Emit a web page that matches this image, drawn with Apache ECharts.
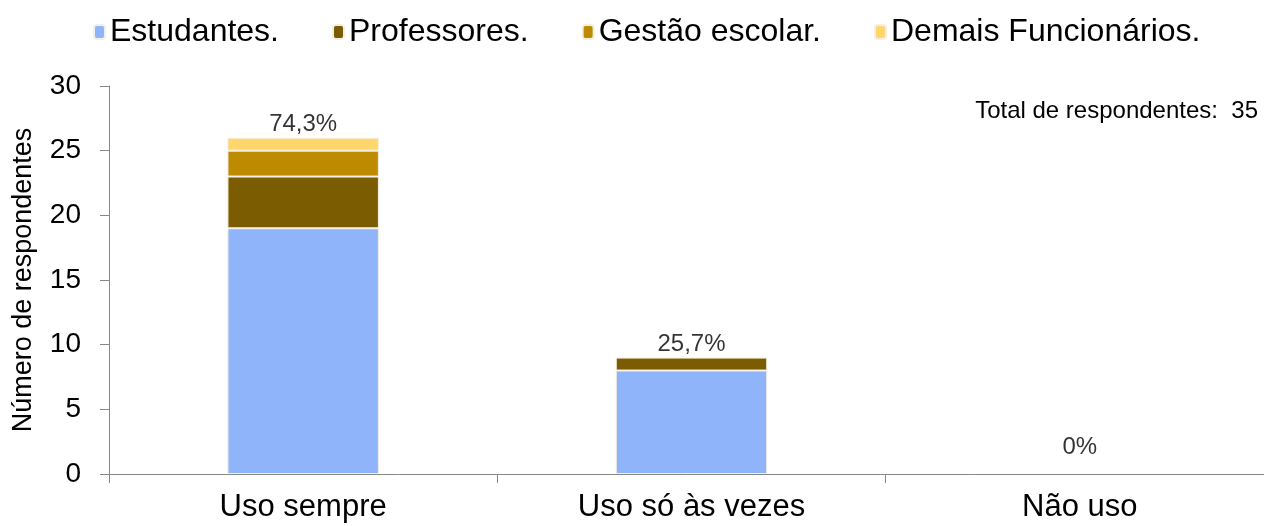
<!DOCTYPE html>
<html>
<head>
<meta charset="utf-8">
<script src="https://cdn.jsdelivr.net/npm/echarts@6/dist/echarts.min.js"></script>
<style>
  html, body { margin: 0; padding: 0; background: #fff; }
  #chart { width: 1264px; height: 526px; }
</style>
</head>
<body>
<div id="chart"></div>
<script>
const categories = ["Uso sempre", "Uso só às vezes", "Não uso"]
const estudantes = [19, 8, 0]
const professores = [4, 1, 0]
const gestao = [2, 0, 0]
const demais = [1, 0, 0]
const pctLabels = ["74,3%", "25,7%", "0%"]
const yTicks = [0, 5, 10, 15, 20, 25, 30]

const font = "Liberation Sans, Arial, sans-serif"
const totals = categories.map((c, i) => estudantes[i] + professores[i] + gestao[i] + demais[i])

const myE = echarts.init(document.getElementById("chart"))

// zero values are left out so no empty border is drawn
const barSeries = (name, data, color) => ({
  name: name,
  type: "bar",
  stack: "total",
  barWidth: "39%",
  data: data.map((v) => (v === 0 ? null : v)),
  itemStyle: {
    color: color,
    borderColor: "#f4efe4",
    borderWidth: 1,
  },
})

let option = {
  animation: false,
  textStyle: { fontFamily: font },
  legend: {
    top: 11,
    left: 88,
    itemWidth: 11,
    itemHeight: 14,
    itemGap: 53,
    textStyle: { fontSize: 32, color: "#000", fontFamily: font },
    data: ["Estudantes.", "Professores.", "Gestão escolar.", "Demais Funcionários."],
  },
  grid: {
    left: 109,
    right: -10,
    top: 86,
    bottom: 52,
    outerBoundsMode: "none",
  },
  graphic: [
    {
      type: "text",
      right: 6,
      top: 99,
      style: {
        text: "Total de respondentes:  35",
        fontSize: 24,
        fontFamily: font,
        fill: "#000",
      },
    },
  ],
  xAxis: {
    type: "category",
    data: categories,
    axisLine: { lineStyle: { color: "#888", width: 1 } },
    axisTick: { show: true, length: 9, lineStyle: { color: "#888" } },
    axisLabel: { fontSize: 31, color: "#000", margin: 18, fontFamily: font },
  },
  yAxis: {
    type: "value",
    min: yTicks[0],
    max: yTicks[yTicks.length - 1],
    interval: 5,
    name: "Número de respondentes",
    nameLocation: "middle",
    nameGap: 72,
    nameRotate: 90,
    nameTextStyle: { fontSize: 27, color: "#000", fontFamily: font },
    axisLine: { show: true, lineStyle: { color: "#888", width: 1 } },
    axisTick: { show: true, length: 9, lineStyle: { color: "#888" } },
    splitLine: { show: false },
    axisLabel: { fontSize: 28, color: "#000", margin: 28, fontFamily: font },
  },
  series: [
    barSeries("Estudantes.", estudantes, "#8fb4f9"),
    barSeries("Professores.", professores, "#7b5c00"),
    barSeries("Gestão escolar.", gestao, "#be8b00"),
    barSeries("Demais Funcionários.", demais, "#ffd66b"),
    {
      name: "pct",
      type: "scatter",
      symbolSize: 0,
      silent: true,
      data: totals.map((t, i) => ({
        value: t,
        label: { offset: t === 0 ? [0, -14] : [0, 0] },
      })),
      label: {
        show: true,
        position: "top",
        distance: 1,
        fontSize: 24,
        color: "#000",
        fontFamily: font,
        formatter: (p) => pctLabels[p.dataIndex],
      },
      emphasis: { disabled: true },
    },
  ],
}
myE.setOption(option)
window.addEventListener("resize", () => {
  myE.resize()
})
</script>
</body>
</html>
